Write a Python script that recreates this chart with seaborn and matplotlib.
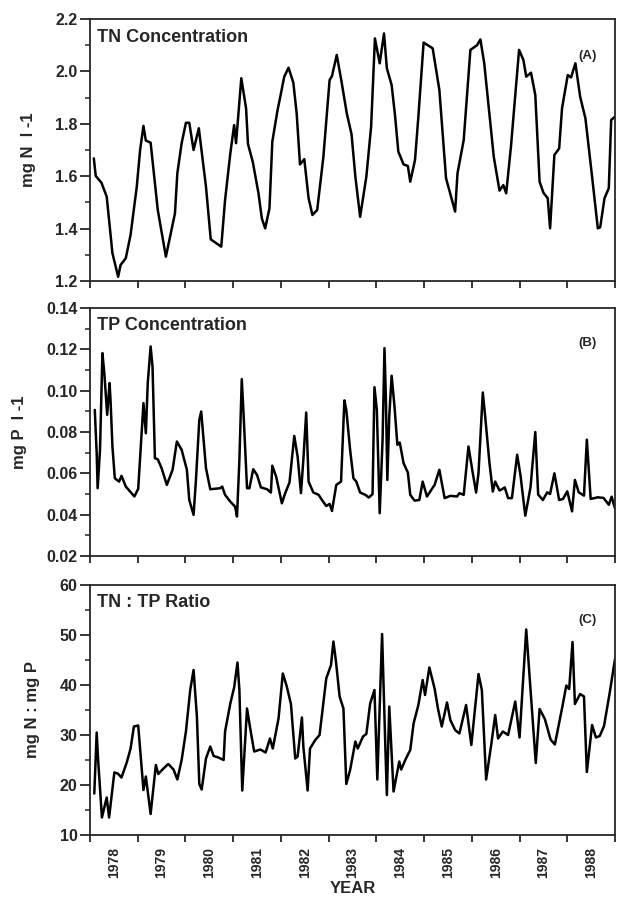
import seaborn as sns
import matplotlib.pyplot as plt
import pandas as pd
from matplotlib.ticker import MultipleLocator, FixedLocator, NullFormatter, FormatStrFormatter

# sampling dates (decimal years) and values
tn_year = [1978.08, 1978.12, 1978.24, 1978.35, 1978.47, 1978.59, 1978.64, 1978.75, 1978.85, 1978.98,
           1979.05, 1979.12, 1979.17, 1979.27, 1979.42, 1979.59, 1979.78, 1979.83, 1979.92, 1980.01,
           1980.08, 1980.17, 1980.28, 1980.43, 1980.53, 1980.75, 1980.83, 1980.94, 1981.02, 1981.06,
           1981.17, 1981.27, 1981.31, 1981.41, 1981.53, 1981.60, 1981.67, 1981.76, 1981.82, 1981.93,
           1981.98, 1982.07, 1982.16, 1982.26, 1982.33, 1982.40, 1982.49, 1982.58, 1982.66, 1982.76,
           1982.89, 1983.02, 1983.07, 1983.17, 1983.27, 1983.38, 1983.48, 1983.56, 1983.66, 1983.79,
           1983.89, 1983.97, 1984.07, 1984.16, 1984.22, 1984.32, 1984.39, 1984.46, 1984.57, 1984.66,
           1984.71, 1984.81, 1984.88, 1984.99, 1985.18, 1985.32, 1985.46, 1985.65, 1985.70, 1985.83,
           1985.97, 1986.11, 1986.18, 1986.26, 1986.46, 1986.58, 1986.66, 1986.72, 1986.82, 1986.99,
           1987.08, 1987.14, 1987.24, 1987.33, 1987.42, 1987.50, 1987.59, 1987.64, 1987.73, 1987.83,
           1987.89, 1988.01, 1988.08, 1988.17, 1988.27, 1988.38, 1988.52, 1988.64, 1988.69, 1988.78,
           1988.87, 1988.92, 1989.00]
tn_value = [1.668, 1.601, 1.575, 1.522, 1.306, 1.216, 1.261, 1.287, 1.376, 1.560,
            1.700, 1.792, 1.736, 1.728, 1.471, 1.293, 1.458, 1.611, 1.726, 1.804,
            1.804, 1.700, 1.783, 1.560, 1.359, 1.331, 1.509, 1.687, 1.795, 1.726,
            1.974, 1.859, 1.723, 1.655, 1.535, 1.439, 1.401, 1.477, 1.732, 1.853,
            1.897, 1.980, 2.014, 1.957, 1.840, 1.645, 1.665, 1.516, 1.452, 1.471,
            1.674, 1.967, 1.982, 2.063, 1.961, 1.840, 1.760, 1.598, 1.445, 1.598,
            1.789, 2.126, 2.031, 2.145, 2.012, 1.948, 1.834, 1.694, 1.645, 1.639,
            1.579, 1.662, 1.827, 2.110, 2.088, 1.929, 1.592, 1.465, 1.611, 1.738,
            2.082, 2.100, 2.122, 2.031, 1.674, 1.545, 1.566, 1.535, 1.713, 2.082,
            2.044, 1.980, 1.995, 1.910, 1.579, 1.537, 1.516, 1.401, 1.681, 1.706,
            1.859, 1.986, 1.977, 2.031, 1.903, 1.821, 1.598, 1.401, 1.405, 1.516,
            1.554, 1.815, 1.827]

tp_year = [1978.10, 1978.14, 1978.16, 1978.21, 1978.26, 1978.30, 1978.36, 1978.41, 1978.43, 1978.47,
           1978.52, 1978.61, 1978.66, 1978.75, 1978.84, 1978.93, 1979.01, 1979.08, 1979.12, 1979.17,
           1979.21, 1979.27, 1979.31, 1979.36, 1979.42, 1979.50, 1979.61, 1979.73, 1979.82, 1979.92,
           1980.03, 1980.08, 1980.17, 1980.22, 1980.29, 1980.33, 1980.38, 1980.43, 1980.52, 1980.73,
           1980.77, 1980.83, 1980.94, 1981.04, 1981.08, 1981.13, 1981.18, 1981.22, 1981.29, 1981.34,
           1981.42, 1981.50, 1981.58, 1981.71, 1981.79, 1981.82, 1981.90, 1982.02, 1982.09, 1982.18,
           1982.28, 1982.35, 1982.42, 1982.47, 1982.53, 1982.58, 1982.68, 1982.79, 1982.86, 1982.95,
           1983.02, 1983.07, 1983.16, 1983.26, 1983.33, 1983.37, 1983.45, 1983.52, 1983.58, 1983.66,
           1983.77, 1983.84, 1983.92, 1983.96, 1984.01, 1984.07, 1984.13, 1984.17, 1984.20, 1984.23,
           1984.27, 1984.32, 1984.38, 1984.44, 1984.49, 1984.57, 1984.66, 1984.71, 1984.80, 1984.90,
           1984.97, 1985.06, 1985.22, 1985.32, 1985.43, 1985.55, 1985.69, 1985.74, 1985.83, 1985.93,
           1986.02, 1986.09, 1986.14, 1986.23, 1986.28, 1986.37, 1986.44, 1986.49, 1986.58, 1986.63,
           1986.69, 1986.76, 1986.84, 1986.95, 1987.02, 1987.12, 1987.23, 1987.33, 1987.39, 1987.49,
           1987.58, 1987.64, 1987.73, 1987.83, 1987.91, 1988.00, 1988.10, 1988.16, 1988.24, 1988.35,
           1988.41, 1988.49, 1988.64, 1988.76, 1988.87, 1988.93, 1989.00]
tp_value = [0.0907, 0.0698, 0.0528, 0.0714, 0.1182, 0.1085, 0.0883, 0.1037, 0.0956, 0.0730,
            0.0576, 0.0560, 0.0588, 0.0536, 0.0512, 0.0488, 0.0525, 0.0794, 0.0940, 0.0794,
            0.1037, 0.1214, 0.1117, 0.0673, 0.0668, 0.0625, 0.0544, 0.0617, 0.0754, 0.0714,
            0.0617, 0.0471, 0.0399, 0.0568, 0.0859, 0.0899, 0.0762, 0.0625, 0.0523, 0.0528,
            0.0536, 0.0496, 0.0463, 0.0439, 0.0391, 0.0665, 0.1056, 0.0875, 0.0528, 0.0528,
            0.0620, 0.0592, 0.0532, 0.0523, 0.0507, 0.0637, 0.0584, 0.0455, 0.0504, 0.0556,
            0.0781, 0.0681, 0.0504, 0.0665, 0.0894, 0.0560, 0.0507, 0.0496, 0.0471, 0.0442,
            0.0452, 0.0418, 0.0544, 0.0560, 0.0953, 0.0907, 0.0714, 0.0576, 0.0560, 0.0507,
            0.0496, 0.0483, 0.0499, 0.1017, 0.0907, 0.0407, 0.0762, 0.1206, 0.0956, 0.0568,
            0.0875, 0.1072, 0.0924, 0.0738, 0.0749, 0.0649, 0.0604, 0.0496, 0.0468, 0.0471,
            0.0560, 0.0488, 0.0544, 0.0617, 0.0480, 0.0491, 0.0488, 0.0504, 0.0496, 0.0730,
            0.0601, 0.0507, 0.0601, 0.0991, 0.0875, 0.0649, 0.0512, 0.0560, 0.0517, 0.0523,
            0.0532, 0.0480, 0.0480, 0.0690, 0.0590, 0.0395, 0.0533, 0.0800, 0.0497, 0.0471,
            0.0508, 0.0500, 0.0600, 0.0471, 0.0476, 0.0513, 0.0416, 0.0568, 0.0508, 0.0492,
            0.0763, 0.0476, 0.0484, 0.0481, 0.0448, 0.0487, 0.0430]

ratio_year = [1978.09, 1978.14, 1978.17, 1978.25, 1978.35, 1978.40, 1978.51, 1978.58, 1978.66, 1978.77,
              1978.85, 1978.92, 1979.01, 1979.12, 1979.17, 1979.27, 1979.38, 1979.43, 1979.54, 1979.64,
              1979.75, 1979.83, 1979.92, 1980.01, 1980.10, 1980.17, 1980.24, 1980.29, 1980.34, 1980.43,
              1980.52, 1980.59, 1980.69, 1980.80, 1980.83, 1980.94, 1981.02, 1981.09, 1981.13, 1981.19,
              1981.29, 1981.35, 1981.44, 1981.57, 1981.68, 1981.77, 1981.83, 1981.95, 1982.04, 1982.12,
              1982.21, 1982.30, 1982.35, 1982.44, 1982.47, 1982.56, 1982.61, 1982.72, 1982.81, 1982.95,
              1983.05, 1983.10, 1983.15, 1983.23, 1983.31, 1983.37, 1983.45, 1983.56, 1983.61, 1983.72,
              1983.79, 1983.87, 1983.96, 1984.02, 1984.12, 1984.19, 1984.22, 1984.27, 1984.31, 1984.36,
              1984.48, 1984.52, 1984.62, 1984.71, 1984.78, 1984.88, 1984.97, 1985.02, 1985.11, 1985.22,
              1985.29, 1985.37, 1985.48, 1985.55, 1985.65, 1985.74, 1985.88, 1985.99, 1986.14, 1986.21,
              1986.30, 1986.41, 1986.49, 1986.55, 1986.65, 1986.76, 1986.91, 1987.00, 1987.14, 1987.34,
              1987.42, 1987.53, 1987.65, 1987.74, 1987.90, 1987.98, 1988.04, 1988.11, 1988.16, 1988.27,
              1988.35, 1988.41, 1988.52, 1988.60, 1988.68, 1988.77, 1988.89, 1989.00]
ratio_value = [18.3, 30.5, 25.0, 13.5, 17.5, 13.5, 22.5, 22.3, 21.5, 24.5,
               27.3, 31.7, 31.9, 19.0, 21.7, 14.2, 24.0, 22.2, 23.3, 24.2,
               23.1, 21.1, 25.0, 30.7, 39.0, 43.0, 33.7, 20.2, 19.1, 25.3,
               27.7, 25.8, 25.5, 25.0, 30.7, 36.3, 39.5, 44.5, 39.0, 18.9,
               35.3, 31.7, 26.7, 27.1, 26.5, 29.3, 27.3, 33.3, 42.3, 39.8,
               36.2, 25.3, 25.7, 33.5, 27.7, 18.9, 27.3, 29.0, 30.0, 41.3,
               44.0, 48.7, 45.0, 37.7, 35.3, 20.2, 23.0, 28.7, 27.3, 29.7,
               30.2, 36.3, 39.0, 21.1, 50.2, 27.0, 18.0, 35.7, 28.3, 18.7,
               24.7, 23.1, 25.3, 27.0, 32.3, 36.0, 41.0, 38.0, 43.5, 39.3,
               35.3, 31.7, 36.5, 33.0, 31.0, 30.3, 36.0, 28.0, 42.2, 39.0,
               21.1, 28.3, 34.0, 29.3, 30.7, 30.0, 36.7, 29.5, 51.1, 24.4,
               35.2, 33.2, 29.1, 28.1, 35.8, 39.9, 39.2, 48.6, 36.2, 38.2,
               37.7, 22.6, 32.0, 29.5, 29.8, 31.8, 38.5, 45.2]

years = list(range(1978, 1989))

sns.set_style("ticks")
plt.rcParams['font.family'] = ['Liberation Sans', 'DejaVu Sans']
plt.rcParams['font.weight'] = 'bold'

fig = plt.figure(figsize=(6.21, 9.02), dpi=100)
W, H = 621.0, 902.0
# panel boxes in pixels: left, top, right, bottom
boxes = [(90, 19, 615, 281), (90, 308, 615, 556), (90, 585, 615, 835)]

panels = [
    (tn_year, tn_value, "TN Concentration", "(A)", "mg N  l -1", (1.2, 2.2), 0.2, 0.1, "%.1f"),
    (tp_year, tp_value, "TP Concentration", "(B)", "mg P  l -1", (0.02, 0.14), 0.02, 0.01, "%.2f"),
    (ratio_year, ratio_value, "TN : TP Ratio", "(C)", "mg N : mg P", (10, 60), 10, 5, "%d"),
]

for i, (box, p) in enumerate(zip(boxes, panels)):
    l, t, r, b = box
    ax = fig.add_axes([l / W, 1 - b / H, (r - l) / W, (b - t) / H])
    xs, ys, title, tag, ylab, ylim, major, minor, fmt = p
    df = pd.DataFrame({"year": xs, "value": ys})
    sns.lineplot(data=df, x="year", y="value", ax=ax, color="black", linewidth=1.8,
                 estimator=None, sort=False)
    ax.set_xlim(1978, 1989)
    ax.set_ylim(*ylim)
    ax.yaxis.set_major_locator(MultipleLocator(major))
    ax.yaxis.set_minor_locator(MultipleLocator(minor))
    ax.yaxis.set_major_formatter(FormatStrFormatter(fmt))
    ax.xaxis.set_major_locator(FixedLocator(list(range(1978, 1990))))
    ax.xaxis.set_major_formatter(NullFormatter())
    ax.tick_params(axis="y", which="major", length=7, width=1.3, labelsize=11.5,
                   direction="out", pad=2)
    ax.tick_params(axis="x", which="major", length=5, width=1.3, direction="out")
    ax.tick_params(axis="y", which="minor", length=3.5, width=1.1, direction="out")
    for s in ax.spines.values():
        s.set_linewidth(1.3)
    for lab in ax.get_yticklabels():
        lab.set_fontweight("bold")
    ax.set_ylabel(ylab, fontsize=12, fontweight="bold", labelpad=14)
    ax.text(0.013, 0.93, title, transform=ax.transAxes, fontsize=13, fontweight="bold",
            ha="left", va="center")
    ax.text(0.965, 0.86, tag, transform=ax.transAxes, fontsize=9.5, fontweight="bold",
            ha="right", va="center")
    if i == 2:
        ax.set_xticks([y + 0.5 for y in years], minor=True)
        ax.set_xticklabels([str(y) for y in years], minor=True, rotation=90,
                           fontsize=10, fontweight="bold")
        ax.tick_params(axis="x", which="minor", length=0, pad=9)
        ax.set_xlabel("YEAR", fontsize=12, fontweight="bold", labelpad=2)
    else:
        ax.set_xlabel("")

fig.savefig("out.png", dpi=100)
